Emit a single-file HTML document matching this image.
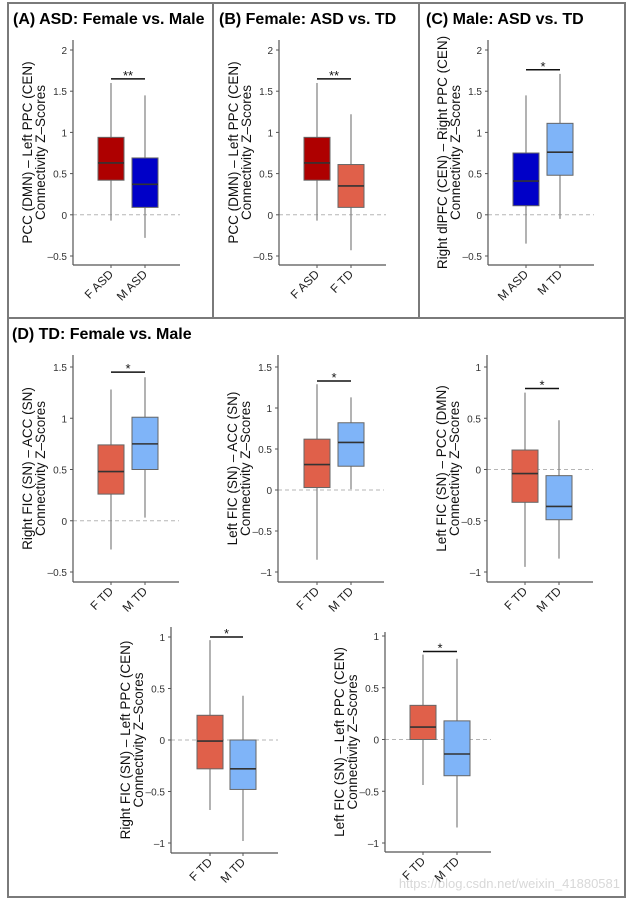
<!DOCTYPE html>
<html><head><meta charset="utf-8"><style>
body{margin:0;background:#fff;width:631px;height:900px;overflow:hidden;font-family:"Liberation Sans",sans-serif}
svg{display:block}
</style></head><body>
<svg id="fig" width="631" height="900">
<rect x="8" y="3" width="205" height="315" fill="none" stroke="#7a7a7a" stroke-width="2"/>
<rect x="213" y="3" width="206" height="315" fill="none" stroke="#7a7a7a" stroke-width="2"/>
<rect x="419" y="3" width="206" height="315" fill="none" stroke="#7a7a7a" stroke-width="2"/>
<rect x="8" y="318" width="617" height="579" fill="none" stroke="#7a7a7a" stroke-width="2"/>
<text x="13" y="24" font-size="16" font-weight="bold">(A) ASD: Female vs. Male</text>
<text x="219" y="24" font-size="16" font-weight="bold">(B) Female: ASD vs. TD</text>
<text x="426" y="24" font-size="16" font-weight="bold">(C) Male: ASD vs. TD</text>
<text x="12" y="339" font-size="16" font-weight="bold">(D) TD: Female vs. Male</text>
<text x="620" y="888" font-size="13" fill="#d8d8d8" text-anchor="end">https://blog.csdn.net/weixin_41880581</text>
<g id="plots"></g>
</svg>
<script>
// Data per plot: [lowerWhisker, q1, median, q3, upperWhisker]
const catsA=["F ASD","M ASD"], boxesA=[[-0.07,0.42,0.63,0.94,1.6],[-0.28,0.09,0.37,0.69,1.45]], sigA=["**",1.65], ticksA=[2,1.5,1,0.5,0,-0.5];
const catsB=["F ASD","F TD"], boxesB=[[-0.07,0.42,0.63,0.94,1.6],[-0.43,0.09,0.35,0.61,1.22]], sigB=["**",1.65], ticksB=[2,1.5,1,0.5,0,-0.5];
const catsC=["M ASD","M TD"], boxesC=[[-0.35,0.11,0.41,0.75,1.45],[-0.05,0.48,0.76,1.11,1.71]], sigC=["*",1.76], ticksC=[2,1.5,1,0.5,0,-0.5];
const catsD1=["F TD","M TD"], boxesD1=[[-0.28,0.26,0.48,0.74,1.28],[0.03,0.5,0.75,1.01,1.4]], sigD1=["*",1.45], ticksD1=[1.5,1,0.5,0,-0.5];
const catsD2=["F TD","M TD"], boxesD2=[[-0.85,0.03,0.31,0.62,1.29],[0.01,0.29,0.58,0.82,1.13]], sigD2=["*",1.33], ticksD2=[1.5,1,0.5,0,-0.5,-1];
const catsD3=["F TD","M TD"], boxesD3=[[-0.95,-0.32,-0.04,0.19,0.75],[-0.87,-0.49,-0.36,-0.06,0.48]], sigD3=["*",0.79], ticksD3=[1,0.5,0,-0.5,-1];
const catsD4=["F TD","M TD"], boxesD4=[[-0.68,-0.28,-0.01,0.24,0.97],[-0.98,-0.48,-0.28,0,0.43]], sigD4=["*",1.0], ticksD4=[1,0.5,0,-0.5,-1];
const catsD5=["F TD","M TD"], boxesD5=[[-0.44,0,0.12,0.33,0.82],[-0.85,-0.35,-0.14,0.18,0.78]], sigD5=["*",0.85], ticksD5=[1,0.5,0,-0.5,-1];

const NS="http://www.w3.org/2000/svg";
const root=document.getElementById('plots');
function mk(tag,attrs,parent,text){const e=document.createElementNS(NS,tag);for(const k in attrs)e.setAttribute(k,attrs[k]);if(text!==undefined)e.textContent=text;parent.appendChild(e);return e;}
function fmt(v){return v<0?"\u2013"+Math.abs(v):String(v);}
function plot(name,cfg,cats,boxes,sig,ticks){
  const g=mk('g',{},root);
  
  
  const y=v=>cfg.p1+(v-cfg.v1)*(cfg.p2-cfg.p1)/(cfg.v2-cfg.v1);
  const xs=cfg.cx;
  const zl=mk('line',{x1:cfg.ax,x2:cfg.axEnd,y1:y(0),y2:y(0),stroke:'#b5b5b5','stroke-width':1,'stroke-dasharray':'4,3'},g);
  
  
  boxes.forEach((b,i)=>{
    const cx=xs[i],w=cfg.bw;
    const wh=mk('line',{x1:cx,x2:cx,y1:y(b[0]),y2:y(b[4]),stroke:'#808080','stroke-width':1.2},g);
    
    
    const r=mk('rect',{x:cx-w/2,y:y(b[3]),width:w,height:y(b[1])-y(b[3]),fill:cfg.colors[i],stroke:'#666','stroke-width':1},g);
    
    
    const m=mk('line',{x1:cx-w/2,x2:cx+w/2,y1:y(b[2]),y2:y(b[2]),stroke:'#333','stroke-width':1.6},g);
    
    
    const t=mk('line',{x1:cx,x2:cx,y1:cfg.axBottom,y2:cfg.axBottom+3,stroke:'#555','stroke-width':1},g);
    
    
    const lx=cx+3,ly=cfg.axBottom+10;
    const lab=mk('text',{x:lx,y:ly,'font-size':12,fill:'#222','text-anchor':'end',transform:`rotate(-45 ${lx} ${ly})`},g,cats[i]);
    
    
  });
  const sb=mk('line',{x1:xs[0],x2:xs[1],y1:y(sig[1]),y2:y(sig[1]),stroke:'#111','stroke-width':1.5},g);
  
  
  const st=mk('text',{x:(xs[0]+xs[1])/2,y:y(sig[1])+1,'font-size':13,'text-anchor':'middle',fill:'#111'},g,sig[0]);
  
  
  const ya=mk('line',{x1:cfg.ax,x2:cfg.ax,y1:cfg.axTop,y2:cfg.axBottom,stroke:'#555','stroke-width':1.2},g);
  
  
  const xa=mk('line',{x1:cfg.ax,x2:cfg.axEnd,y1:cfg.axBottom,y2:cfg.axBottom,stroke:'#555','stroke-width':1.2},g);
  
  
  ticks.forEach(v=>{
    const tk=mk('line',{x1:cfg.ax-3,x2:cfg.ax,y1:y(v),y2:y(v),stroke:'#555','stroke-width':1},g);
    
    
    const tl=mk('text',{x:cfg.ax-6,y:y(v)+4,'font-size':10,fill:'#333','text-anchor':'end'},g,fmt(v));
    
    
  });
  const my=(cfg.axTop+cfg.axBottom)/2;
  const lx1=cfg.ax-41, lx2=cfg.ax-28;
  const t1=mk('text',{x:lx1,y:my,'font-size':13.5,fill:'#111','text-anchor':'middle',transform:`rotate(-90 ${lx1} ${my})`},g,cfg.lab1);
  
  
  const t2=mk('text',{x:lx2,y:my,'font-size':13.5,fill:'#111','text-anchor':'middle',transform:`rotate(-90 ${lx2} ${my})`},g,"Connectivity Z\u2013Scores");
  
  
}
const RED='#ae0000',BLUE='#0000c8',ORG='#e0604a',LB='#7fb4f8';
const topCfg={v1:2,p1:50,v2:-0.5,p2:256,axTop:40,axBottom:265,bw:26};
plot('plot-a',Object.assign({},topCfg,{ax:73,axEnd:180,cx:[111,145],colors:[RED,BLUE],lab1:"PCC (DMN) \u2013 Left PPC (CEN)"}),catsA,boxesA,sigA,ticksA);
plot('plot-b',Object.assign({},topCfg,{ax:279,axEnd:386,cx:[317,351],colors:[RED,ORG],lab1:"PCC (DMN) \u2013 Left PPC (CEN)"}),catsB,boxesB,sigB,ticksB);
plot('plot-c',Object.assign({},topCfg,{ax:488,axEnd:594,cx:[526,560],colors:[BLUE,LB],lab1:"Right dlPFC (CEN) \u2013 Right PPC (CEN)"}),catsC,boxesC,sigC,ticksC);
const midCfg={axTop:355,axBottom:582,bw:26};
plot('plot-d1',Object.assign({},midCfg,{v1:1.5,p1:367,v2:-0.5,p2:572,ax:73,axEnd:179,cx:[111,145],colors:[ORG,LB],lab1:"Right FIC (SN) \u2013 ACC (SN)"}),catsD1,boxesD1,sigD1,ticksD1);
plot('plot-d2',Object.assign({},midCfg,{v1:1.5,p1:367,v2:-1,p2:572,ax:278,axEnd:384,cx:[317,351],colors:[ORG,LB],lab1:"Left FIC (SN) \u2013 ACC (SN)"}),catsD2,boxesD2,sigD2,ticksD2);
plot('plot-d3',Object.assign({},midCfg,{v1:1,p1:367,v2:-1,p2:572,ax:487,axEnd:593,cx:[525,559],colors:[ORG,LB],lab1:"Left FIC (SN) \u2013 PCC (DMN)"}),catsD3,boxesD3,sigD3,ticksD3);
plot('plot-d4',{v1:1,p1:637,v2:-1,p2:843,axTop:627,axBottom:853,bw:26,ax:171,axEnd:278,cx:[210,243],colors:[ORG,LB],lab1:"Right FIC (SN) \u2013 Left PPC (CEN)"},catsD4,boxesD4,sigD4,ticksD4);
plot('plot-d5',{v1:1,p1:636,v2:-1,p2:843,axTop:632,axBottom:852,bw:26,ax:385,axEnd:491,cx:[423,457],colors:[ORG,LB],lab1:"Left FIC (SN) \u2013 Left PPC (CEN)"},catsD5,boxesD5,sigD5,ticksD5);
</script>
</body></html>
